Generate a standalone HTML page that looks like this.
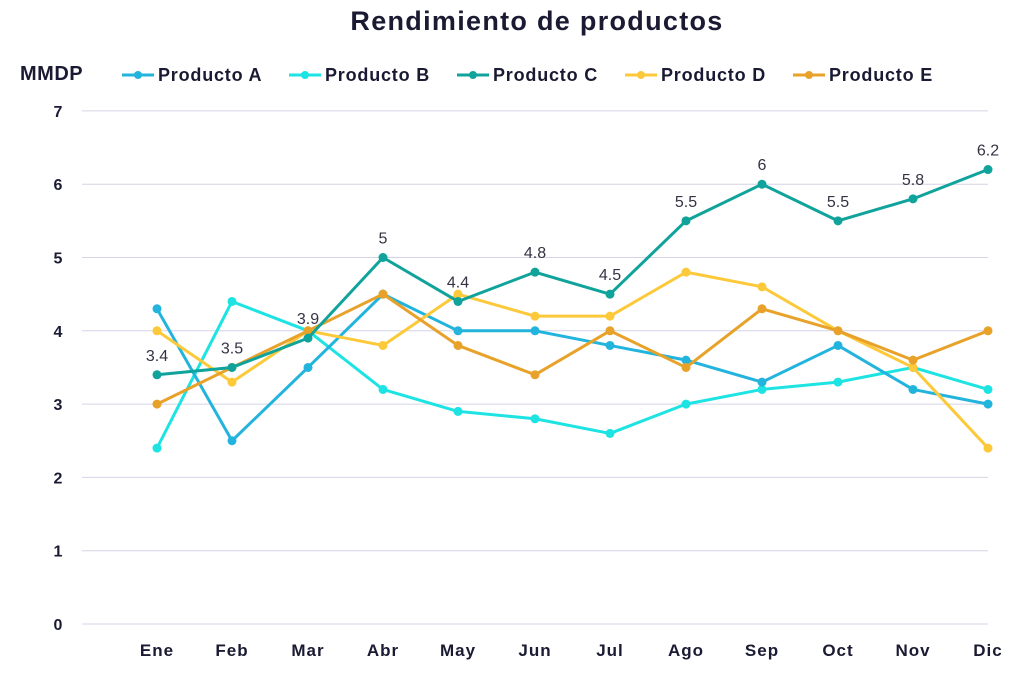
<!DOCTYPE html>
<html><head><meta charset="utf-8"><style>
body{margin:0;background:#fff;}
svg{display:block;font-family:"Liberation Sans",sans-serif;}
</style></head><body>
<svg id="s" width="1024" height="673" xmlns="http://www.w3.org/2000/svg">
<text x="537" y="30" text-anchor="middle" font-size="27" font-weight="bold" letter-spacing="1.3" fill="#1a1a33">Rendimiento de productos</text>
<text x="20" y="80" font-size="20" font-weight="bold" letter-spacing="0.5" fill="#1a1a33">MMDP</text>
</svg>
<script>
var s=document.getElementById('s'),ns='http://www.w3.org/2000/svg';
function el(t,a,txt){var e=document.createElementNS(ns,t);for(var k in a)e.setAttribute(k,a[k]);if(txt!=null)e.textContent=txt;s.appendChild(e);return e;}
function Y(v){return 624-v*73.3;}
var X=[157,232,308,383,458,535,610,686,762,838,913,988];
for(var i=0;i<=7;i++){el('line',{x1:82,x2:988,y1:Y(i),y2:Y(i),stroke:'#d4d4e6','stroke-width':1});
el('text',{x:58,y:Y(i)+6,'text-anchor':'middle','font-size':16,'font-weight':'bold',fill:'#1a1a33'},i);}
var m=['Ene','Feb','Mar','Abr','May','Jun','Jul','Ago','Sep','Oct','Nov','Dic'];
m.forEach(function(t,i){el('text',{x:X[i],y:656,'text-anchor':'middle','font-size':17,'font-weight':'bold','letter-spacing':1,fill:'#1a1a33'},t);});
var S=[
['Producto A','#22b4dc',[4.3,2.5,3.5,4.5,4.0,4.0,3.8,3.6,3.3,3.8,3.2,3.0]],
['Producto B','#1de3e3',[2.4,4.4,4.0,3.2,2.9,2.8,2.6,3.0,3.2,3.3,3.5,3.2]],
['Producto C','#10a39b',[3.4,3.5,3.9,5,4.4,4.8,4.5,5.5,6,5.5,5.8,6.2]],
['Producto D','#fcc93a',[4.0,3.3,4.0,3.8,4.5,4.2,4.2,4.8,4.6,4.0,3.5,2.4]],
['Producto E','#e8a22a',[3.0,3.5,4.0,4.5,3.8,3.4,4.0,3.5,4.3,4.0,3.6,4.0]]];
var lx=[122,289,457,625,793];
S.forEach(function(sr,j){
el('line',{x1:lx[j],x2:lx[j]+32,y1:75,y2:75,stroke:sr[1],'stroke-width':3});
el('circle',{cx:lx[j]+16,cy:75,r:4,fill:sr[1]});
el('text',{x:lx[j]+36,y:81,'font-size':18,'font-weight':'bold','letter-spacing':0.8,fill:'#1a1a33'},sr[0]);
});
[1,0,3,4,2].forEach(function(j){var sr=S[j];
var p=sr[2].map(function(v,i){return X[i]+','+Y(v);}).join(' ');
el('polyline',{points:p,fill:'none',stroke:sr[1],'stroke-width':3,'stroke-linejoin':'round'});
sr[2].forEach(function(v,i){el('circle',{cx:X[i],cy:Y(v),r:4.5,fill:sr[1]});});
});
S[2][2].forEach(function(v,i){el('text',{x:X[i],y:Y(v)-14,'text-anchor':'middle','font-size':16,fill:'#333344'},v);});
</script>
</body></html>
